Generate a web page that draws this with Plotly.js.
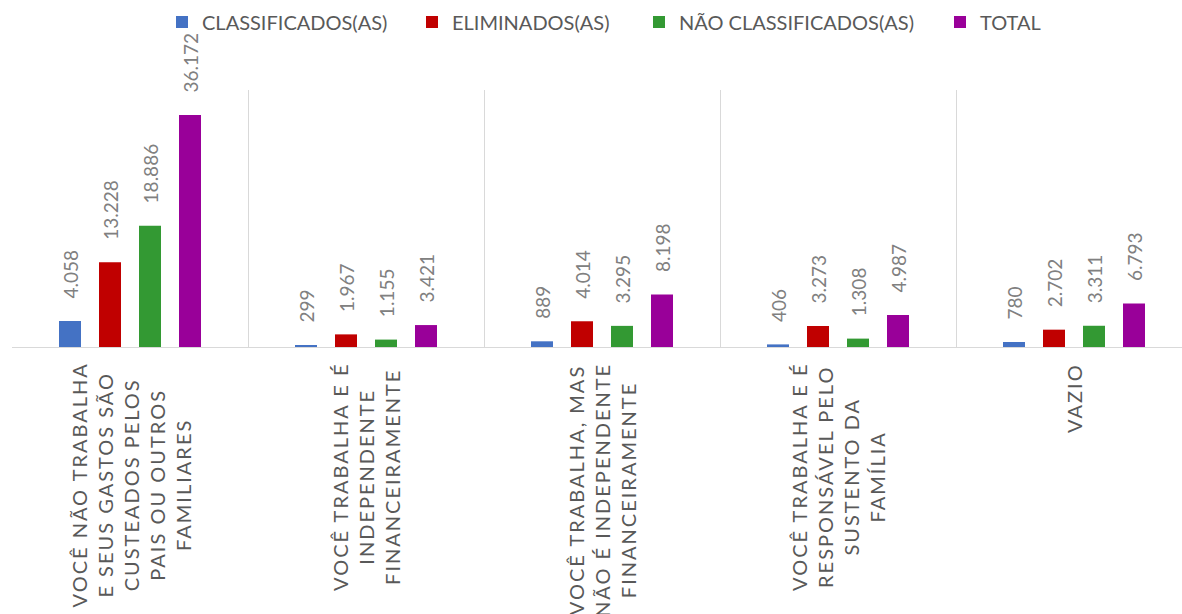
<!DOCTYPE html>
<html>
<head>
<meta charset="utf-8">
<script src="https://cdn.plot.ly/plotly-3.0.1.min.js"></script>
<style>
  html, body { margin: 0; padding: 0; background: #fff; }
  #chart { width: 1182px; height: 614px; }
  text.annotation-text { letter-spacing: 2px; }
</style>
</head>
<body>
<div id="chart"></div>
<script>
const categories = [
  "VOCÊ NÃO TRABALHA<br>E SEUS GASTOS SÃO<br>CUSTEADOS PELOS<br>PAIS OU OUTROS<br>FAMILIARES",
  "VOCÊ TRABALHA E É<br>INDEPENDENTE<br>FINANCEIRAMENTE",
  "VOCÊ TRABALHA, MAS<br>NÃO É INDEPENDENTE<br>FINANCEIRAMENTE",
  "VOCÊ TRABALHA E É<br>RESPONSÁVEL PELO<br>SUSTENTO DA<br>FAMÍLIA",
  "VAZIO"
];
const seriesNames = ["CLASSIFICADOS(AS)", "ELIMINADOS(AS)", "NÃO CLASSIFICADOS(AS)", "TOTAL"];
const classificados = [4058, 299, 889, 406, 780];
const eliminados = [13228, 1967, 4014, 3273, 2702];
const naoClassificados = [18886, 1155, 3295, 1308, 3311];
const total = [36172, 3421, 8198, 4987, 6793];
const colors = ["#4472C4", "#C00000", "#339933", "#990099"];

const values = [classificados, eliminados, naoClassificados, total];
const legendIds = ["legend", "legend2", "legend3", "legend4"];
const legendLeft = [162, 412, 639, 940];
const pad = "\u00a0\u00a0\u00a0\u00a0";

const traces = values.map((v, i) => ({
  type: "bar",
  name: seriesNames[i],
  legend: legendIds[i],
  x: categories,
  y: v,
  marker: { color: colors[i] },
  texttemplate: pad + "%{y:,.0f}",
  textposition: "outside",
  textangle: -90,
  cliponaxis: false,
  constraintext: "none",
  textfont: { family: "Lato, sans-serif", size: 19, color: "#808080" },
  hoverinfo: "y+name"
}));

const annotations = categories.map(c => ({
  xref: "x", x: c,
  yref: "paper", y: 0,
  yanchor: "top", xanchor: "center",
  yshift: -14,
  text: c,
  textangle: -90,
  align: "center",
  showarrow: false,
  font: { family: "Lato, sans-serif", size: 20, color: "#595959" }
}));

const layout = {
  width: 1182, height: 614,
  margin: { l: 12, r: 0, t: 90, b: 267 },
  paper_bgcolor: "#fff", plot_bgcolor: "#fff",
  separators: ",.",
  barmode: "group",
  bargap: 0.322,
  bargroupgap: 0.45,
  showlegend: true,
  xaxis: {
    type: "category",
    range: [-0.5, -0.5 + 1170 / 236],
    tickson: "boundaries",
    showgrid: true, gridcolor: "#D9D9D9", gridwidth: 1,
    showline: true, linecolor: "#D9D9D9", linewidth: 1,
    ticks: "", showticklabels: false,
    fixedrange: true
  },
  yaxis: {
    range: [0, 40070],
    showgrid: false, zeroline: false, showline: false,
    showticklabels: false, ticks: "",
    fixedrange: true
  },
  annotations: annotations
};

legendIds.forEach((id, i) => {
  layout[id] = {
    orientation: "h",
    x: legendLeft[i] / 1182, xanchor: "left", xref: "container",
    y: 1 - 22 / 614, yanchor: "middle", yref: "container",
    bgcolor: "rgba(0,0,0,0)",
    font: { family: "Lato, sans-serif", size: 20, color: "#595959" }
  };
});

Plotly.newPlot("chart", traces, layout, { displayModeBar: false, responsive: false });
</script>
</body>
</html>
